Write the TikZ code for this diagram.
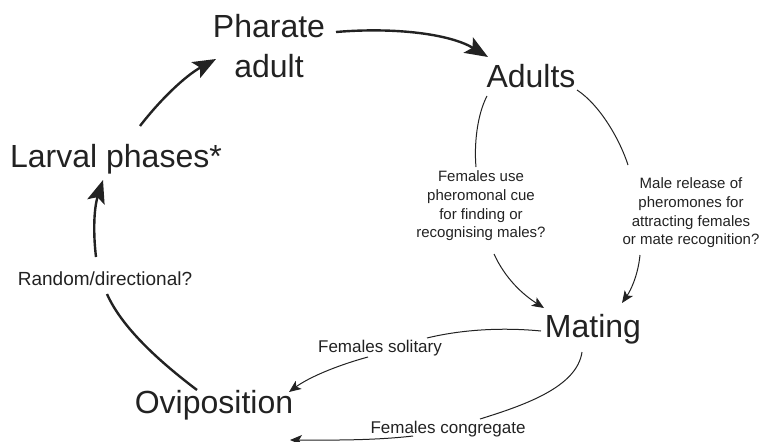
\documentclass[tikz,border=0pt]{standalone}
\usepackage{fontspec}
\setmainfont{Liberation Sans}
\usetikzlibrary{arrows.meta}
\definecolor{ink}{HTML}{222222}
\tikzset{
  big/.style={font=\fontsize{32}{40}\selectfont, text=ink, inner sep=0pt, align=center},
  small/.style={font=\fontsize{15}{18.6}\selectfont, text=ink, inner sep=0pt, align=center},
  label/.style={font=\fontsize{17}{20}\selectfont, text=ink, inner sep=0pt},
  thickarc/.style={draw=ink, line width=2.4pt},
  thinarc/.style={draw=ink, line width=1pt},
  bighead/.style={-{Stealth[length=23pt,width=18pt,inset=5pt]}},
  smallhead/.style={-{Stealth[length=12pt,width=10pt,inset=3pt]}}
}
\begin{document}
\begin{tikzpicture}[x=1pt,y=-1pt]
\useasboundingbox (0,0) rectangle (759,441);
% nodes
\node[big] (pharate) at (269,46) {Pharate\\adult};
\node[big, anchor=base] (adults) at (531,88) {Adults};
\node[big, anchor=base] (larval) at (116,167) {Larval phases*};
\node[big, anchor=base] (mating) at (593,337) {Mating};
\node[big, anchor=base] (ovi) at (214,413) {Oviposition};
\node[small] (fem) at (481,206) {Females use\\pheromonal cue\\for finding or\\recognising males?};
\node[small] (male) at (691,213) {Male release of\\pheromones for\\attracting females\\or mate recognition?};
\node[label, anchor=base, font=\fontsize{19}{22}\selectfont] (random) at (105,285) {Random/directional?};
\node[label, anchor=base] (solitary) at (380,352) {Females solitary};
\node[label, anchor=base] (congregate) at (448,433) {Females congregate};
% thick cycle arrows
\draw[thickarc, bighead] ([shift={(67,-14)}]pharate.center) .. controls (395,27) and (450,34) .. ([shift={(-43,-31)}]adults.base);
\draw[thickarc, bighead] ([shift={(24,-41)}]larval.base) .. controls (160,100) and (185,76) .. ([shift={(-53,13)}]pharate.center);
\draw[thickarc] ([shift={(-17,-23)}]ovi.base) .. controls (160,362) and (122,328) .. ([shift={(2,9)}]random.base);
\draw[thickarc, bighead] ([shift={(-9,-28)}]random.base) .. controls (93,232) and (94,208) .. ([shift={(-13,13)}]larval.base);
% adults to mating
\draw[thinarc] ([shift={(-44,8)}]adults.base) .. controls (477,115) and (474,145) .. ([shift={(-5,-39)}]fem.center);
\draw[thinarc, smallhead] ([shift={(13,48)}]fem.center) .. controls (505,278) and (522,294) .. ([shift={(-49,-29)}]mating.base);
\draw[thinarc] ([shift={(46,2)}]adults.base) .. controls (600,105) and (620,140) .. ([shift={(-63,-48)}]male.center);
\draw[thinarc, smallhead] ([shift={(-51,42)}]male.center) .. controls (638,275) and (631,290) .. ([shift={(29,-34)}]mating.base);
% mating to oviposition
\draw[thinarc] ([shift={(-52,-6)}]mating.base) .. controls (500,327) and (460,330) .. ([shift={(47,-14)}]solitary.base);
\draw[thinarc, smallhead] ([shift={(-12,5)}]solitary.base) .. controls (335,366) and (308,378) .. ([shift={(75,-21)}]ovi.base);
\draw[thinarc] ([shift={(-11,15)}]mating.base) .. controls (577,387) and (525,405) .. ([shift={(32,-14)}]congregate.base);
\draw[thinarc, smallhead] ([shift={(-35,3)}]congregate.base) .. controls (370,441) and (320,440) .. ([shift={(76,27)}]ovi.base);
\end{tikzpicture}
\end{document}
